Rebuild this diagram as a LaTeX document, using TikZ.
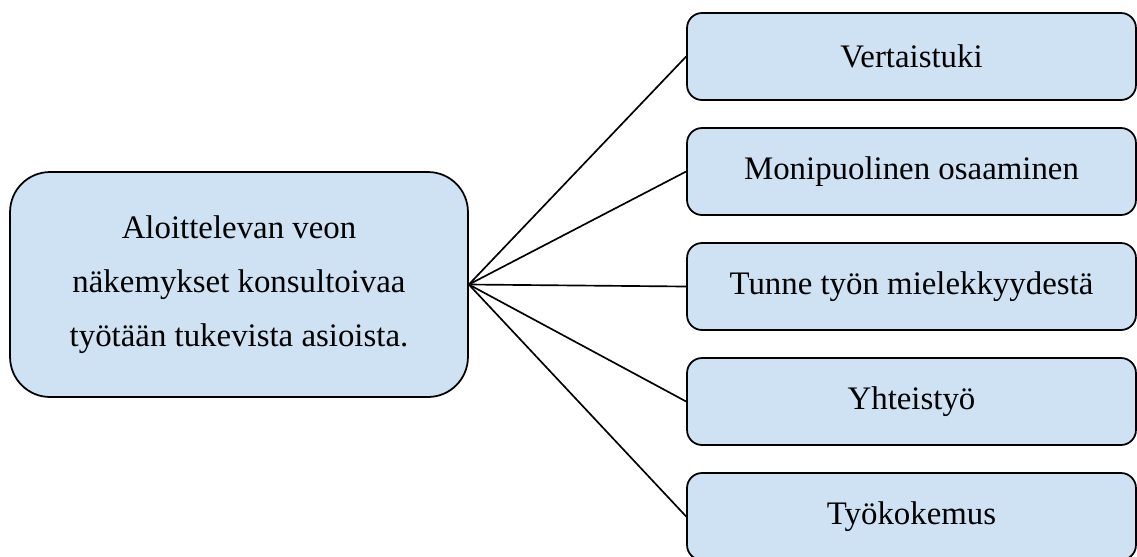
\documentclass[tikz,border=0pt]{standalone}
\usepackage{fontspec}
\setmainfont{Liberation Serif}
\usepackage{tikz}
\usetikzlibrary{positioning}
\definecolor{paleblue}{HTML}{CFE2F3}
\tikzset{
  mainbox/.style={draw=black,fill=paleblue,line width=1pt,rounded corners=.8cm,
    minimum width=9.16cm,minimum height=4.5cm,align=center,
    font=\fontsize{18.7}{30.7}\selectfont},
  itembox/.style={draw=black,fill=paleblue,line width=1pt,rounded corners=.3cm,
    minimum width=8.98cm,minimum height=1.74cm,
    font=\fontsize{18.7}{22}\selectfont},
  link/.style={line width=.95pt}
}
\begin{document}
\begin{tikzpicture}[x=.02cm,y=-.02cm]
\useasboundingbox (0,0) rectangle (1137,556);
\node[mainbox] (main) at (239,284.5) {Aloittelevan veon\\näkemykset konsultoivaa\\työtään tukevista asioista.};
\node[itembox] (peer) at (911.5,56.5) {Vertaistuki};
\node[itembox] (skill) at (911.5,171.5) {Monipuolinen osaaminen};
\node[itembox] (meaning) at (911.5,286.5) {Tunne työn mielekkyydestä};
\node[itembox] (coop) at (911.5,401.5) {Yhteistyö};
\node[itembox] (exp) at (911.5,516.5) {Työkokemus};
\foreach \n in {peer,skill,meaning,coop,exp}
  \draw[link] (main.east) -- (\n.west);
\end{tikzpicture}
\end{document}
